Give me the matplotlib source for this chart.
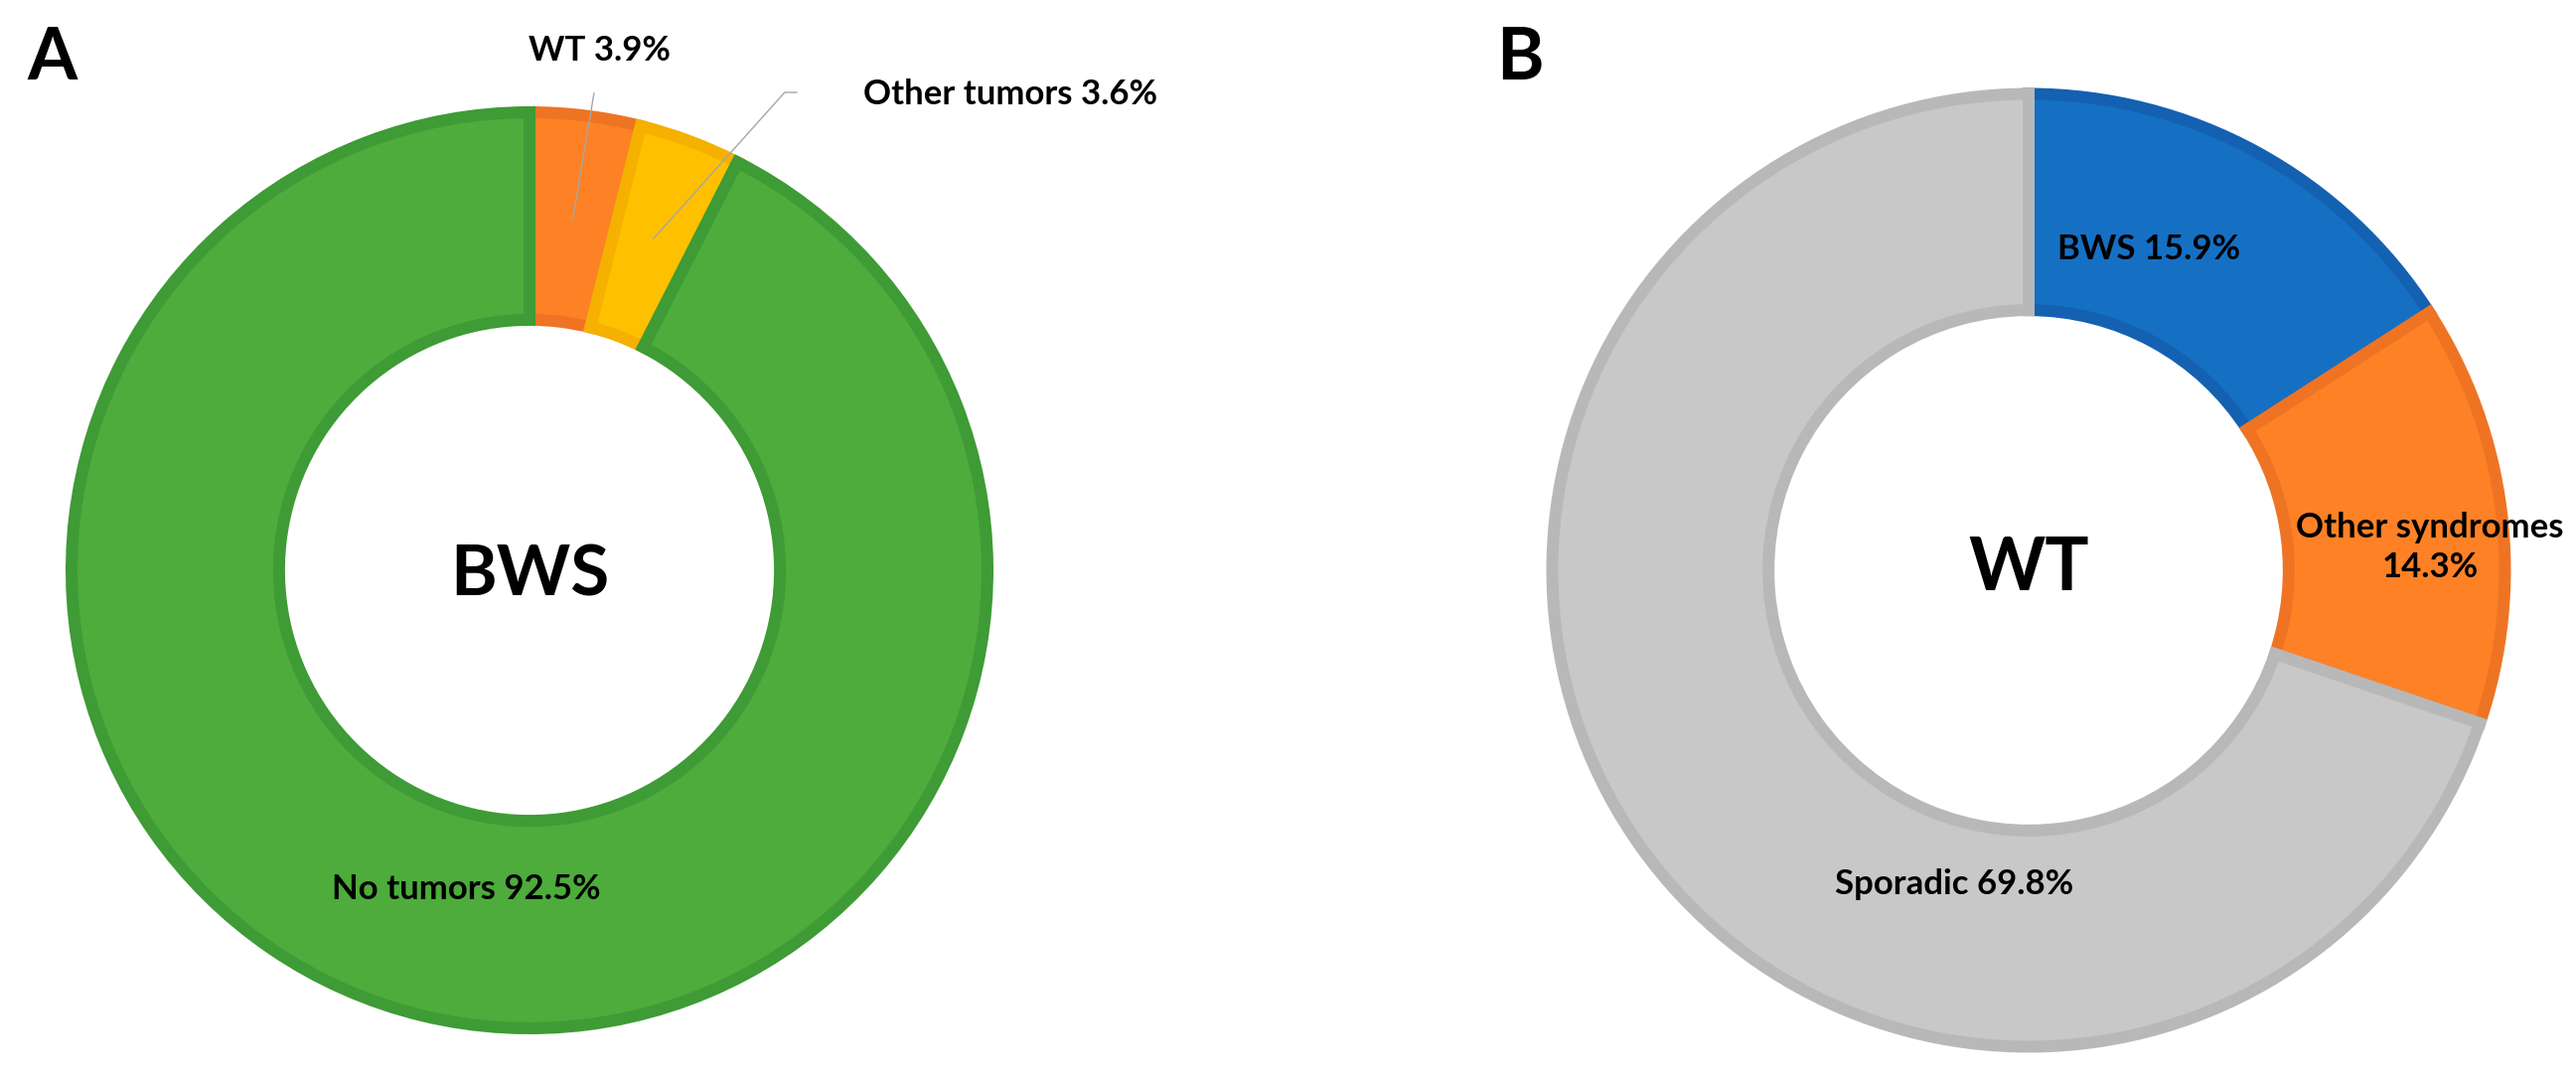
import matplotlib.pyplot as plt
import numpy as np

plt.rcParams["font.family"] = ["Lato", "DejaVu Sans"]

# data
bws_labels = ["WT", "Other tumors", "No tumors"]
bws_values = [3.9, 3.6, 92.5]
wt_labels = ["BWS", "Other syndromes", "Sporadic"]
wt_values = [15.9, 14.3, 69.8]

bws_fill = ["#FF8126", "#FFC000", "#4DAC3B"]
bws_edge = ["#EE7424", "#F5B000", "#3E9B35"]
wt_fill = ["#1570C4", "#FF8126", "#C8C8C8"]
wt_edge = ["#1461B2", "#EE7424", "#B8B8B8"]

W, H = 2593, 1087
fig = plt.figure(figsize=(W / 100, H / 100), dpi=100)


def donut_axes(cx, cy, r):
    # axes placed in pixel units, data -1..1 maps onto the outer radius
    return fig.add_axes([(cx - r) / W, (H - cy - r) / H, 2 * r / W, 2 * r / H])


def draw_donut(ax, values, fills, edges, r_px):
    lw_px = 12
    half = lw_px / 2 / r_px
    outer = 1 - half
    inner = 0.527 + half
    wedges, _ = ax.pie(values, colors=fills, startangle=90, counterclock=False,
                       radius=outer,
                       wedgeprops=dict(width=outer - inner, linewidth=lw_px * 0.72,
                                       joinstyle="miter"))
    for w, ec in zip(wedges, edges):
        w.set_edgecolor(ec)
    ax.set_xlim(-1, 1)
    ax.set_ylim(-1, 1)
    ax.set_aspect("equal")
    ax.axis("off")
    return wedges, (outer + inner) / 2


def centroid(values, i, rmid):
    frac = np.cumsum([0] + list(values)) / sum(values)
    ang = np.deg2rad(90 - 360 * (frac[i] + frac[i + 1]) / 2)
    return rmid * np.cos(ang), rmid * np.sin(ang)


lab_kw = dict(fontsize=25, fontweight="bold", color="black")

# A: BWS
R1 = 467
ax1 = donut_axes(533, 574, R1)
_, rmid1 = draw_donut(ax1, bws_values, bws_fill, bws_edge, R1)
ax1.text(0, -0.01, "BWS", ha="center", va="center", fontsize=51, fontweight="bold")
ax1.text(0.15, 1.12, f"{bws_labels[0]} {bws_values[0]}%", ha="center", va="center", **lab_kw)
ax1.text(0.719, 1.026, f"{bws_labels[1]} {bws_values[1]}%", ha="left", va="center", **lab_kw)
ax1.text(-0.137, -0.687, f"{bws_labels[2]} {bws_values[2]}%", ha="center", va="center", **lab_kw)

# leader lines
x0, y0 = centroid(bws_values, 0, rmid1)
ax1.plot([0.139, x0], [1.028, y0], color="#A6A6A6", lw=1, clip_on=False)
x1, y1 = centroid(bws_values, 1, rmid1)
ax1.plot([0.576, 0.550, x1], [1.030, 1.030, y1], color="#A6A6A6", lw=1, clip_on=False)

# B: WT
R2 = 485.5
ax2 = donut_axes(2042, 574, R2)
draw_donut(ax2, wt_values, wt_fill, wt_edge, R2)
ax2.text(0, 0.004, "WT", ha="center", va="center", fontsize=53, fontweight="bold")
ax2.text(0.25, 0.665, f"{wt_labels[0]} {wt_values[0]}%", ha="center", va="center", **lab_kw)
ax2.text(0.832, 0.047, f"{wt_labels[1]}\n{wt_values[1]}%", ha="center", va="center",
         linespacing=1.3, **lab_kw)
ax2.text(-0.154, -0.651, f"{wt_labels[2]} {wt_values[2]}%", ha="center", va="center", **lab_kw)

fig.text(52 / W, 1 - 60 / H, "A", ha="center", va="center", fontsize=52, fontweight="bold")
fig.text(1530 / W, 1 - 60 / H, "B", ha="center", va="center", fontsize=52, fontweight="bold")

fig.savefig("out.png", dpi=100)
